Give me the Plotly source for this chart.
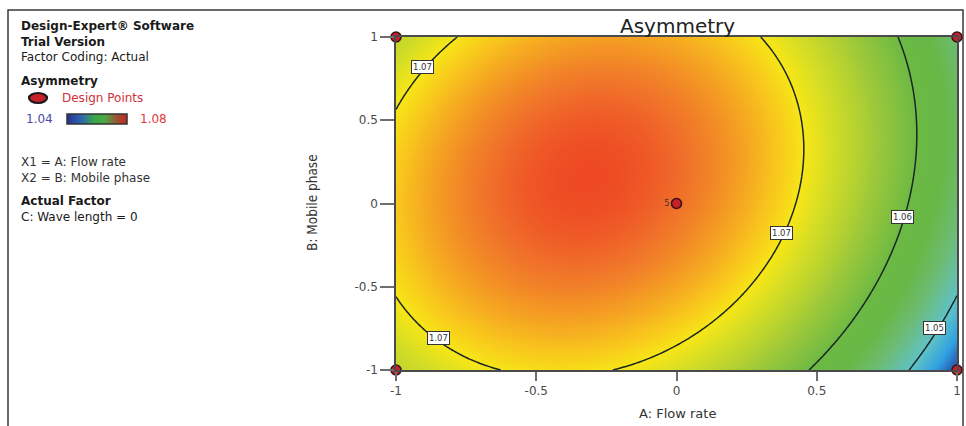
import numpy as np
import plotly.graph_objects as go

W, H = 966, 426

# ---------------- data ----------------
# Fitted quadratic response-surface model (coded units)
# Asymmetry = b0 + bA*A + bB*B + bAB*A*B + bAA*A^2 + bBB*B^2
model_terms = ["Intercept", "A", "B", "AB", "A^2", "B^2"]
model_coefs = [1.07604, -0.00868, 0.00245, 0.00242, -0.01300, -0.00544]

# design points (A: Flow rate, B: Mobile phase)
design_A = [-1, 1, -1, 1, 0]
design_B = [-1, -1, 1, 1, 0]
design_reps = ["", "", "", "", "5"]

# contour levels and their labels
contour_start, contour_end, contour_step = 1.05, 1.07, 0.01
label_text = ["1.07", "1.07", "1.07", "1.06", "1.05"]
label_A = [-0.905, -0.85, 0.375, 0.806, 0.92]
label_B = [0.822, -0.806, -0.18, -0.083, -0.75]

tick_vals = [-1, -0.5, 0, 0.5, 1]
tick_text = ["-1", "-0.5", "0", "0.5", "1"]

# colour ramp for the response (value -> colour)
ramp_values = [1.044, 1.047, 1.050, 1.054, 1.057, 1.060, 1.064, 1.068, 1.070, 1.072, 1.074, 1.076, 1.0776]
ramp_colors = ["#27409a", "#2fa0e2", "#5fc2c6", "#6dbb72", "#67b846", "#6cb944", "#9cc83a",
               "#d4dd25", "#f7e617", "#f8c31d", "#f49c23", "#f0722a", "#ee4a24"]

legend_low, legend_high = "1.04", "1.08"

# ---------------- surface ----------------
grid = np.linspace(-1, 1, 161)
GA, GB = np.meshgrid(grid, grid)
b0, bA, bB, bAB, bAA, bBB = model_coefs
Z = b0 + bA * GA + bB * GB + bAB * GA * GB + bAA * GA ** 2 + bBB * GB ** 2

zmin, zmax = ramp_values[0], ramp_values[-1]
colorscale = [[(v - zmin) / (zmax - zmin), c] for v, c in zip(ramp_values, ramp_colors)]


def px(x):
    """page pixel x -> paper fraction"""
    return x / W


def py(y):
    """page pixel y -> paper fraction"""
    return 1 - y / H


FONT = "DejaVu Sans"

fig = go.Figure()
fig.add_trace(go.Heatmap(x=grid, y=grid, z=Z, zsmooth="best", colorscale=colorscale,
                         zmin=zmin, zmax=zmax, showscale=False, hoverinfo="skip"))
fig.add_trace(go.Contour(x=grid, y=grid, z=Z, showscale=False, hoverinfo="skip",
                         contours=dict(start=contour_start, end=contour_end, size=contour_step,
                                       coloring="none"),
                         line=dict(color="#1a2624", width=1.5)))
fig.add_trace(go.Scatter(x=design_A, y=design_B, mode="markers+text", text=design_reps,
                         textposition="middle left", cliponaxis=False,
                         textfont=dict(size=8, color="#333", family=FONT),
                         marker=dict(size=10, color="#c8202a", line=dict(color="#3a1212", width=1.6)),
                         hoverinfo="skip", showlegend=False))

# legend gradient bar
fig.add_trace(go.Heatmap(x=[0, 1], y=[0, 1], z=[[0, 1], [0, 1]], zsmooth="best", xaxis="x2", yaxis="y2",
                         colorscale=[[0, "#26338f"], [0.22, "#2d62b2"], [0.45, "#38a74c"],
                                     [0.62, "#4aa944"], [0.82, "#9c5430"], [1, "#c8242a"]],
                         showscale=False, hoverinfo="skip"))

axis_common = dict(range=[-1, 1], tickvals=tick_vals, ticktext=tick_text, ticks="outside",
                   tickwidth=1.5, tickcolor="#6e6e6e", showline=True, linecolor="#4a4a4a",
                   linewidth=1.5, mirror=True, showgrid=False, zeroline=False, automargin=False,
                   tickfont=dict(family=FONT, size=12, color="#4a4a4a"))

fig.update_layout(
    width=W, height=H, margin=dict(l=0, r=0, t=0, b=0),
    paper_bgcolor="white", plot_bgcolor="white", showlegend=False,
    xaxis=dict(domain=[px(396), px(957)], ticklen=9, **axis_common),
    yaxis=dict(domain=[py(370), py(37)], ticklen=14, **axis_common),
    xaxis2=dict(domain=[px(67), px(127)], range=[0, 1], visible=False, anchor="y2"),
    yaxis2=dict(domain=[py(124), py(114)], range=[0, 1], visible=False, anchor="x2"),
)

ann = []
for t, a, b in zip(label_text, label_A, label_B):
    ann.append(dict(x=a, y=b, xref="x", yref="y", text=t, showarrow=False,
                    xanchor="center", yanchor="middle",
                    font=dict(family=FONT, size=8.5, color="#333"), bgcolor="white",
                    bordercolor="#333", borderwidth=1, borderpad=1))

# titles
ann.append(dict(x=px(677), y=py(26), xref="paper", yref="paper", text="Asymmetry", showarrow=False,
                xanchor="center", yanchor="middle", font=dict(family=FONT, size=20, color="#222")))
ann.append(dict(x=px(677), y=py(413), xref="paper", yref="paper", text="A: Flow rate", showarrow=False,
                xanchor="center", yanchor="middle", font=dict(family=FONT, size=13, color="#333")))
ann.append(dict(x=px(312), y=py(203), xref="paper", yref="paper", text="B: Mobile phase", showarrow=False,
                xanchor="center", yanchor="middle", textangle=-90,
                font=dict(family="Liberation Sans Narrow, DejaVu Sans Condensed, DejaVu Sans", size=13.5,
                          color="#333")))

# left information panel: (text, centre y, colour, left x)
left_blocks = [
    ("<b>Design-Expert® Software</b><br><b>Trial Version</b><br>Factor Coding: Actual", 41.5, "#1a1a1a", 19),
    ("<b>Asymmetry</b>", 81, "#1a1a1a", 19),
    ("Design Points", 98, "#d2303a", 60),
    (legend_low, 119, "#4a4aa8", 24),
    (legend_high, 119, "#e0383c", 138),
    ("X1 = A: Flow rate<br>X2 = B: Mobile phase", 169.5, "#333", 19),
    ("<b>Actual Factor</b><br>C: Wave length = 0", 209, "#1a1a1a", 19),
]
for txt, yy, col, xx in left_blocks:
    ann.append(dict(x=px(xx), y=py(yy), xref="paper", yref="paper", text=txt, showarrow=False,
                    xanchor="left", yanchor="middle", align="left",
                    font=dict(family=FONT, size=12, color=col)))

fig.update_layout(annotations=ann)

shapes = [
    # outer frame
    dict(type="path", xref="paper", yref="paper",
         path=f"M {px(8)},{py(440)} L {px(8)},{py(10)} L {px(963)},{py(10)} L {px(963)},{py(440)}",
         line=dict(color="#3a3a3a", width=1.5)),
    # legend bar border
    dict(type="rect", xref="paper", yref="paper", x0=px(67), x1=px(127), y0=py(124), y1=py(114),
         line=dict(color="#333", width=1.5)),
    # legend design point symbol
    dict(type="circle", xref="paper", yref="paper", x0=px(29), x1=px(47), y0=py(103), y1=py(93),
         fillcolor="#c8202a", line=dict(color="#1a1a1a", width=2.2)),
]
fig.update_layout(shapes=shapes)

# remove the browser's default body margin so the figure fills the window exactly
fig.write_html("out.html", config={"displayModeBar": False},
               post_script="document.body.style.margin='0px';")
